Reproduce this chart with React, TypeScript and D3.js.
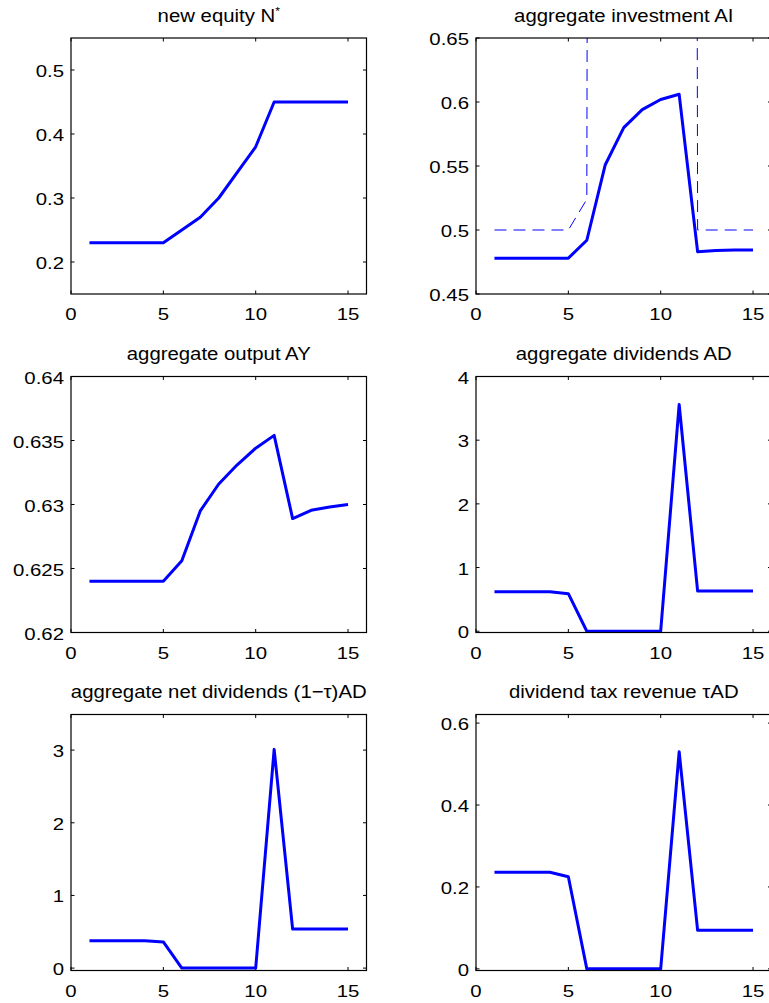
import React from "react";
import * as d3 from "d3";

// periods on the x axis
const periods = [1, 2, 3, 4, 5, 6, 7, 8, 9, 10, 11, 12, 13, 14, 15];

// series
const newEquity = [0.23, 0.23, 0.23, 0.23, 0.23, 0.25, 0.27, 0.3, 0.34, 0.38, 0.45, 0.45, 0.45, 0.45, 0.45];
const investment = [0.478, 0.478, 0.478, 0.478, 0.478, 0.492, 0.551, 0.58, 0.594, 0.602, 0.606, 0.483, 0.484, 0.4844, 0.4844];
// dashed reference path leaves the top of the frame between 6 and 12
const investmentRef = [0.5, 0.5, 0.5, 0.5, 0.5, 0.524, 8, 8, 8, 8, 8, 0.5, 0.5, 0.5, 0.5];
const output = [0.624, 0.624, 0.624, 0.624, 0.624, 0.6256, 0.6295, 0.6316, 0.6331, 0.6344, 0.6354, 0.6289, 0.62955, 0.6298, 0.63];
const dividends = [0.62, 0.62, 0.62, 0.62, 0.59, 0, 0, 0, 0, 0, 3.56, 0.63, 0.63, 0.63, 0.63];
const netDividends = [0.377, 0.377, 0.377, 0.377, 0.36, 0, 0, 0, 0, 0, 3.01, 0.538, 0.538, 0.538, 0.538];
const taxRevenue = [0.236, 0.236, 0.236, 0.236, 0.225, 0, 0, 0, 0, 0, 0.53, 0.094, 0.094, 0.094, 0.094];

// tick values
const xTicks = [0, 5, 10, 15];
const equityTicks = [0.2, 0.3, 0.4, 0.5];
const investTicks = [0.45, 0.5, 0.55, 0.6, 0.65];
const outputTicks = [0.62, 0.625, 0.63, 0.635, 0.64];
const divTicks = [0, 1, 2, 3, 4];
const netDivTicks = [0, 1, 2, 3];
const taxTicks = [0, 0.2, 0.4, 0.6];

const FONT = "'Liberation Sans', Arial, Helvetica, sans-serif";
const BLUE = "#0000ff";

const colX = [71, 476];
const rowY = [38, 376.5, 714.5];
const W = 295.5;
const H = 256;

type Panel = {
  key: string;
  title: React.ReactNode;
  values: number[];
  dashed?: number[];
  yDomain: [number, number];
  yTicks: number[];
  col: number;
  row: number;
};

const panels: Panel[] = [
  {
    key: "neq",
    title: <>new equity N<tspan dy={-7} fontSize={11}>*</tspan></>,
    values: newEquity, yDomain: [0.15, 0.55], yTicks: equityTicks, col: 0, row: 0,
  },
  {
    key: "ai",
    title: "aggregate investment AI",
    values: investment, dashed: investmentRef, yDomain: [0.45, 0.65], yTicks: investTicks, col: 1, row: 0,
  },
  {
    key: "ay",
    title: "aggregate output AY",
    values: output, yDomain: [0.62, 0.64], yTicks: outputTicks, col: 0, row: 1,
  },
  {
    key: "ad",
    title: "aggregate dividends AD",
    values: dividends, yDomain: [-0.02, 4], yTicks: divTicks, col: 1, row: 1,
  },
  {
    key: "nad",
    title: "aggregate net dividends (1\u2212\u03c4)AD",
    values: netDividends, yDomain: [-0.033, 3.49], yTicks: netDivTicks, col: 0, row: 2,
  },
  {
    key: "tad",
    title: "dividend tax revenue \u03c4AD",
    values: taxRevenue, yDomain: [-0.004, 0.621], yTicks: taxTicks, col: 1, row: 2,
  },
];

const TICK = 3.5;

const PanelView = ({ p }: { p: Panel }) => {
  const x0 = colX[p.col];
  const y0 = rowY[p.row];
  const x = d3.scaleLinear().domain([0, 16]).range([x0, x0 + W]);
  const y = d3.scaleLinear().domain(p.yDomain).range([y0 + H, y0]);
  const line = d3
    .line<number>()
    .x((_, i) => x(periods[i]))
    .y((d) => y(d));
  const clipId = "clip-" + p.key;
  return (
    <g>
      <defs>
        <clipPath id={clipId}>
          <rect x={x0} y={y0} width={W} height={H} />
        </clipPath>
      </defs>
      <rect x={x0} y={y0} width={W} height={H} fill="white" />
      {/* x ticks, top and bottom, pointing in */}
      {xTicks.map((t) => (
        <g key={"x" + t}>
          <line x1={x(t)} x2={x(t)} y1={y0 + H} y2={y0 + H - TICK} stroke="black" />
          <line x1={x(t)} x2={x(t)} y1={y0} y2={y0 + TICK} stroke="black" />
          <text
            transform={`translate(${x(t)},${y0 + H + 26}) scale(1.2,1)`}
            textAnchor="middle"
            fontSize={17}
            fontFamily={FONT}
          >
            {String(t)}
          </text>
        </g>
      ))}
      {p.yTicks.map((t) => (
        <g key={"y" + t}>
          <line x1={x0} x2={x0 + TICK} y1={y(t)} y2={y(t)} stroke="black" />
          <line x1={x0 + W} x2={x0 + W - TICK} y1={y(t)} y2={y(t)} stroke="black" />
          <text
            transform={`translate(${x0 - 7},${y(t) + 7}) scale(1.2,1)`}
            textAnchor="end"
            fontSize={17}
            fontFamily={FONT}
          >
            {String(t)}
          </text>
        </g>
      ))}
      <g clipPath={`url(#${clipId})`}>
        {p.dashed && (
          <path d={line(p.dashed) || ""} fill="none" stroke={BLUE} strokeWidth={1} strokeDasharray="12,7" />
        )}
        <path d={line(p.values) || ""} fill="none" stroke={BLUE} strokeWidth={3} strokeLinejoin="round" />
      </g>
      <rect x={x0} y={y0} width={W} height={H} fill="none" stroke="black" strokeWidth={1.2} />
      <text
        transform={`translate(${x0 + W / 2},${y0 - 16.5}) scale(1.1,1)`}
        textAnchor="middle"
        fontSize={18.5}
        fontFamily={FONT}
      >
        {p.title}
      </text>
    </g>
  );
};

const App = () => {
  return (
    <div style={{ position: "absolute", left: 0, top: 0, width: 769, height: 1003, overflow: "hidden" }}>
      <svg width={769} height={1003} style={{ display: "block", background: "white" }}>
        <rect width={769} height={1003} fill="white" />
        {panels.map((p) => (
          <PanelView key={p.key} p={p} />
        ))}
      </svg>
    </div>
  );
};

export default App;
